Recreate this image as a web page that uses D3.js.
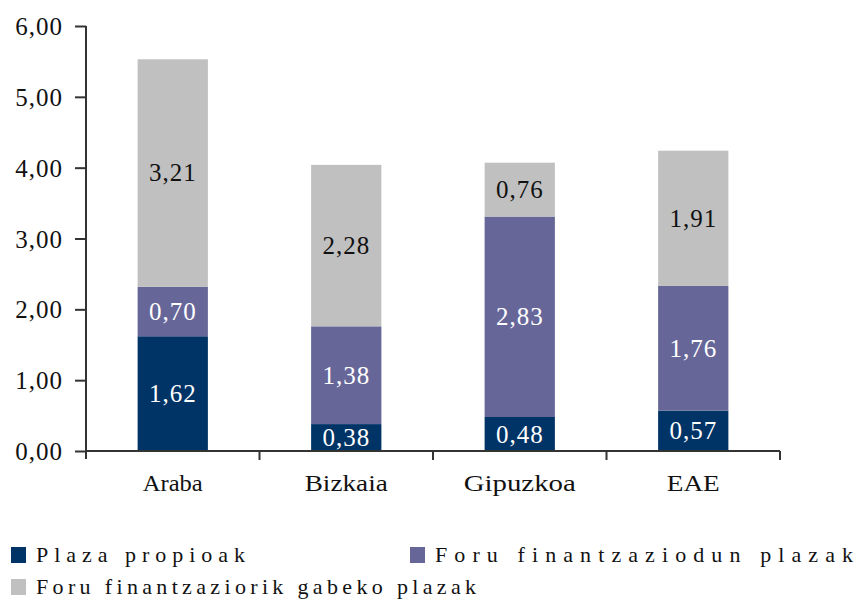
<!DOCTYPE html>
<html><head><meta charset="utf-8">
<script src="https://cdn.jsdelivr.net/npm/d3@7"></script>
<style>body{margin:0;background:#fff}svg{display:block}</style>
</head><body>
<script>
const categories = ["Araba", "Bizkaia", "Gipuzkoa", "EAE"];
const seriesNames = ["Plaza propioak", "Foru finantzaziodun plazak", "Foru finantzaziorik gabeko plazak"];
const plazaPropioak = [1.62, 0.38, 0.48, 0.57];
const foruFinantzaziodun = [0.70, 1.38, 2.83, 1.76];
const foruFinantzaziorikGabeko = [3.21, 2.28, 0.76, 1.91];
const yTicks = [0, 1, 2, 3, 4, 5, 6];
const colors = ["#003366", "#666699", "#C0C0C0"];
const labelColors = ["#ffffff", "#ffffff", "#111111"];
const SERIF = '"Liberation Serif"';

const W = 854, H = 600;
const svg = d3.select("body").append("svg").attr("width", W).attr("height", H)
  .attr("font-family", "Liberation Serif").style("font-family", SERIF);
const m = {left: 86, right: 74, top: 26, bottom: 149};
const x = d3.scaleBand().domain(categories).range([m.left, W - m.right]).padding(0);
const y = d3.scaleLinear().domain([0, 6]).range([H - m.bottom, m.top]);
const fmt = v => d3.format(".2f")(v).replace(".", ",");

const rows = categories.map((c, i) => ({cat: c, s0: plazaPropioak[i], s1: foruFinantzaziodun[i], s2: foruFinantzaziorikGabeko[i]}));
const stack = d3.stack().keys(["s0", "s1", "s2"])(rows);
const barW = x.bandwidth() * 0.405;

const g = svg.append("g");
stack.forEach((layer, li) => {
  layer.forEach(d => {
    const cx = x(d.data.cat) + x.bandwidth() / 2;
    g.append("rect").attr("x", cx - barW / 2).attr("width", barW)
      .attr("y", y(d[1])).attr("height", y(d[0]) - y(d[1])).attr("fill", colors[li]);
    g.append("text").attr("x", cx).attr("y", (y(d[0]) + y(d[1])) / 2)
      .attr("dy", "0.34em").attr("text-anchor", "middle")
      .attr("font-family", "Liberation Serif")
      .style("font-family", SERIF).style("font-size", "25px").style("letter-spacing", "1px")
      .attr("fill", labelColors[li]).text(fmt(d[1] - d[0]));
  });
});

// Y axis
const yAxis = svg.append("g").attr("transform", `translate(${m.left},0)`)
  .call(d3.axisLeft(y).tickValues(yTicks).tickFormat(fmt).tickSize(11).tickPadding(12));
yAxis.attr("font-family", "Liberation Serif");
yAxis.select(".domain").attr("d", `M0,${y(6)}V${y(0) + 8}`);
// X axis
const xAxis = svg.append("g").attr("transform", `translate(0,${y(0)})`)
  .call(d3.axisBottom(x).tickSize(0).tickPadding(23));
xAxis.attr("font-family", "Liberation Serif");
xAxis.select(".domain").attr("d", `M${m.left},0H${W - m.right}`);
categories.forEach(c => {
  xAxis.append("line").attr("x1", x(c) + x.bandwidth()).attr("x2", x(c) + x.bandwidth())
    .attr("y1", 0).attr("y2", 9).attr("stroke", "#333").attr("stroke-width", 2);
});
svg.selectAll(".domain, .tick line").attr("stroke", "#333").attr("stroke-width", 2);
yAxis.selectAll(".tick text").style("font-family", SERIF).style("font-size", "25px")
  .style("letter-spacing", "1px").attr("fill", "#111").attr("dy", "0.34em");
const catLen = [60, 83, 112, 53];
xAxis.selectAll(".tick text").style("font-family", SERIF).style("font-size", "24px").attr("fill", "#111")
  .attr("textLength", (d, i) => catLen[i]).attr("lengthAdjust", "spacingAndGlyphs");

// Legend
const legendPos = [[11, 555], [410, 555], [11, 587]];
const legendLen = [209, 418, 440];
seriesNames.forEach((n, i) => {
  const [lx, ly] = legendPos[i];
  svg.append("rect").attr("x", lx).attr("y", ly - 8).attr("width", 15).attr("height", 16).attr("fill", colors[i]);
  svg.append("text").attr("x", lx + 25).attr("y", ly).attr("dy", "0.33em")
    .style("font-family", SERIF).style("font-size", "22px")
    .attr("textLength", legendLen[i]).attr("lengthAdjust", "spacing")
    .attr("fill", "#111").text(n);
});
</script>
</body></html>
